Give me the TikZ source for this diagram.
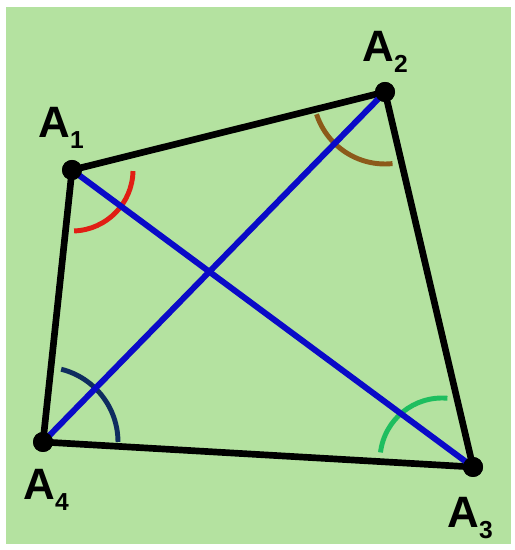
\documentclass[tikz,border=0pt]{standalone}
\usepackage{fontspec}
\setmainfont{Liberation Sans}
\usetikzlibrary{positioning}
\definecolor{paper}{RGB}{180,226,160}
\definecolor{diagblue}{RGB}{10,10,200}
\definecolor{angred}{RGB}{225,30,20}
\definecolor{angbrown}{RGB}{140,90,25}
\definecolor{angnavy}{RGB}{15,45,95}
\definecolor{anggreen}{RGB}{30,190,95}
\newcommand{\vlab}[1]{\textbf{A}\raisebox{-6pt}{\fontsize{14}{14}\selectfont\bfseries #1}}

\begin{document}
\begin{tikzpicture}[x=0.02cm, y=0.02cm,
  dot/.style={circle, fill=black, inner sep=0pt, minimum size=0.4cm},
  lab/.style={anchor=base west, inner sep=0pt, font=\fontsize{25}{25}\selectfont},
  side/.style={line width=3.8pt, black},
  diag/.style={line width=3.4pt, diagblue},
  ang/.style={line width=2.8pt}]

% Background
\useasboundingbox (0,0) rectangle (514,550);
\fill[white] (0,0) rectangle (514,550);
\fill[paper] (6,6) rectangle (511,543);

% Nodes
\node[dot] (A1) at (72,380) {};
\node[dot] (A2) at (385,458) {};
\node[dot] (A3) at (473,83) {};
\node[dot] (A4) at (43,108) {};
\coordinate (C3) at (442,90);

\node[lab] (l1) at (38,412) {\vlab{1}};
\node[lab] (l2) at (362,488) {\vlab{2}};
\node[lab] (l3) at (447,22) {\vlab{3}};
\node[lab] (l4) at (23,50) {\vlab{4}};

% Angle marks
\draw[ang, angred] ([shift={(-1:1.22cm)}]A1.center) arc[start angle=-1, end angle=-88, radius=1.22cm];
\draw[ang, angbrown] ([shift={(198:1.44cm)}]A2.center) arc[start angle=198, end angle=276, radius=1.44cm];
\draw[ang, angnavy] ([shift={(0:1.5cm)}]A4.center) arc[start angle=0, end angle=76, radius=1.5cm];
\draw[ang, anggreen] ([shift={(85:1.24cm)}]C3) arc[start angle=85, end angle=173, radius=1.24cm];

% Sides
\draw[side] (A1.center) -- (A2.center) -- (A3.center) -- (A4.center) -- cycle;

% Diagonals
\draw[diag] (A1.center) -- (A3.center);
\draw[diag] (A4.center) -- (A2.center);

% Dots on top
\foreach \v in {A1,A2,A3,A4}
  \fill (\v) circle[radius=0.2cm];

\end{tikzpicture}
\end{document}
